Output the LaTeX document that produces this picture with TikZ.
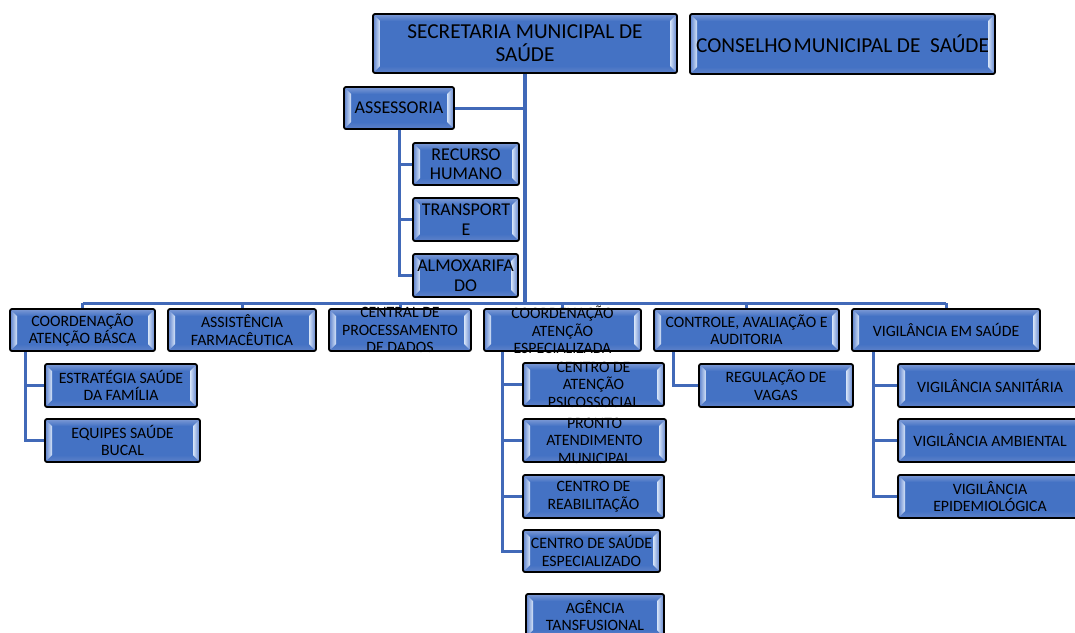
\documentclass[tikz,border=0pt]{standalone}
\usepackage{fontspec}
\setmainfont{Carlito}
\definecolor{boxblue}{HTML}{4472C4}
\definecolor{bevtop}{HTML}{7E9BD6}
\definecolor{bevbot}{HTML}{5F82C9}
\definecolor{bevside}{HTML}{5A7FCB}
\definecolor{bevhi}{HTML}{D6E4F8}
\definecolor{bevline}{HTML}{A3B8E2}
\definecolor{connblue}{HTML}{4169B8}
\pgfdeclarelayer{bg}
\pgfsetlayers{bg,main}
\tikzset{
  box/.style={draw=black, line width=1.8pt, rounded corners=2pt, fill=boxblue,
    inner sep=0pt, outer sep=0pt,
    path picture={
      \path (path picture bounding box.north west) coordinate (pnw)
            (path picture bounding box.north east) coordinate (pne)
            (path picture bounding box.south west) coordinate (psw)
            (path picture bounding box.south east) coordinate (pse);
      \shade[sharp corners, top color=bevtop, bottom color=boxblue]
        (pnw) -- (pne) -- ([shift={(-7pt,-7pt)}]pne) -- ([shift={(7pt,-7pt)}]pnw) -- cycle;
      \shade[sharp corners, top color=boxblue, bottom color=bevbot]
        ([shift={(7pt,7pt)}]psw) -- ([shift={(-7pt,7pt)}]pse) -- (pse) -- (psw) -- cycle;
      \shade[sharp corners, left color=bevside, right color=bevhi]
        (pnw) -- ([shift={(7pt,-7pt)}]pnw) -- ([shift={(7pt,7pt)}]psw) -- (psw) -- cycle;
      \shade[sharp corners, left color=bevhi, right color=bevside]
        (pne) -- (pse) -- ([shift={(-7pt,7pt)}]pse) -- ([shift={(-7pt,-7pt)}]pne) -- cycle;
      \draw[sharp corners, bevline, line width=2.6pt] (pnw) rectangle (pse);
    }},
  txt/.style={align=center, inner sep=0pt, text=black},
  fbig/.style={font=\fontsize{21.3}{23}\selectfont},
  fmid/.style={font=\fontsize{18}{19.5}\selectfont},
  fsml/.style={font=\fontsize{15.8}{17.5}\selectfont},
  conn/.style={draw=connblue, line width=3pt},
  trunk/.style={draw=connblue, line width=3.8pt},
}
\newcommand\bx[7]{%
  \node[box, anchor=north west, minimum width={#4-#2}, minimum height={#5-#3}] (#1) at (#2,#3) {};
  \node[txt,#6] (#1-t) at (#1.center) {#7};}
\begin{document}
\begin{tikzpicture}[x=1pt,y=-1pt]
\useasboundingbox (0,0) rectangle (1075,632);
\clip (0,0) rectangle (1075,632);
% top
\bx{sec}{373}{14}{677}{73}{fbig}{SECRETARIA MUNICIPAL DE\\SAÚDE}
\bx{cons}{690}{14}{995}{74}{fbig}{CONSELHO\hspace{0.1em}MUNICIPAL DE\ \ SAÚDE}
\bx{ass}{344}{87}{454}{129}{fmid}{ASSESSORIA}
\bx{rh}{413}{143}{519}{185}{fmid}{RECURSO\\HUMANO}
\bx{tr}{413}{198}{519}{241}{fmid}{TRANSPORT\\E}
\bx{alm}{413}{254}{518}{297}{fmid}{ALMOXARIFA\\DO}
% second row
\bx{cab}{10}{309}{155}{351}{fsml}{COORDENAÇÃO\\ATENÇÃO BÁSCA}
\bx{af}{168}{309}{316}{351}{fsml}{ASSISTÊNCIA\\FARMACÊUTICA}
\bx{cpd}{329}{309}{471}{351}{fsml}{CENTRAL DE\\PROCESSAMENTO\\DE DADOS}
\bx{cae}{484}{309}{641}{351}{fsml}{COORDENAÇÃO\\ATENÇÃO\\ESPECIALIZADA}
\bx{cta}{654}{309}{839}{351}{fsml}{CONTROLE, AVALIAÇÃO E\\AUDITORIA}
\bx{vig}{852}{309}{1040}{351}{fsml}{VIGILÂNCIA EM SAÚDE}
% children
\bx{esf}{45}{364}{197}{407}{fsml}{ESTRATÉGIA SAÚDE\\DA FAMÍLIA}
\bx{esb}{45}{419}{200}{462}{fsml}{EQUIPES SAÚDE\\BUCAL}
\bx{caps}{523}{363}{664}{406}{fsml}{CENTRO DE\\ATENÇÃO\\PSICOSSOCIAL}
\bx{pam}{523}{419}{666}{462}{fsml}{PRONTO\\ATENDIMENTO\\MUNICIPAL}
\bx{cr}{523}{475}{664}{518}{fsml}{CENTRO DE\\REABILITAÇÃO}
\bx{cse}{523}{530}{660}{572}{fsml}{CENTRO DE SAÚDE\\ESPECIALIZADO}
\bx{at}{526}{594}{664}{637}{fsml}{AGÊNCIA\\TANSFUSIONAL}
\bx{rv}{699}{364}{853}{407}{fsml}{REGULAÇÃO DE\\VAGAS}
\bx{vs}{898}{364}{1082}{407}{fsml}{VIGILÂNCIA SANITÁRIA}
\bx{va}{898}{419}{1082}{462}{fsml}{VIGILÂNCIA AMBIENTAL}
\bx{ve}{898}{475}{1082}{518}{fsml}{VIGILÂNCIA\\EPIDEMIOLÓGICA}
% connectors
\coordinate (bus) at (0,303);
\begin{pgfonlayer}{bg}
  \draw[trunk] (sec.south) -- (sec.south |- bus);
  \draw[conn] (ass.east) -- (ass.east -| sec.south);
  \draw[conn] (ass.south) |- (rh.west);
  \draw[conn] (ass.south) |- (tr.west);
  \draw[conn] (ass.south) |- (alm.west);
  \draw[conn] (cab.north |- bus) -- (vig.north |- bus);
  \foreach \n in {cab,af,cpd,cae,cta,vig}
    \draw[conn] (\n.north) -- (\n.north |- bus);
  \draw[conn] ([xshift=15pt]cab.south west) |- (esf.west);
  \draw[conn] ([xshift=15pt]cab.south west) |- (esb.west);
  \foreach \n in {caps,pam,cr,cse}
    \draw[conn] ([xshift=18pt]cae.south west) |- (\n.west);
  \draw[conn] ([xshift=19pt]cta.south west) |- (rv.west);
  \foreach \n in {vs,va,ve}
    \draw[conn] ([xshift=21pt]vig.south west) |- (\n.west);
\end{pgfonlayer}
\end{tikzpicture}
\end{document}
